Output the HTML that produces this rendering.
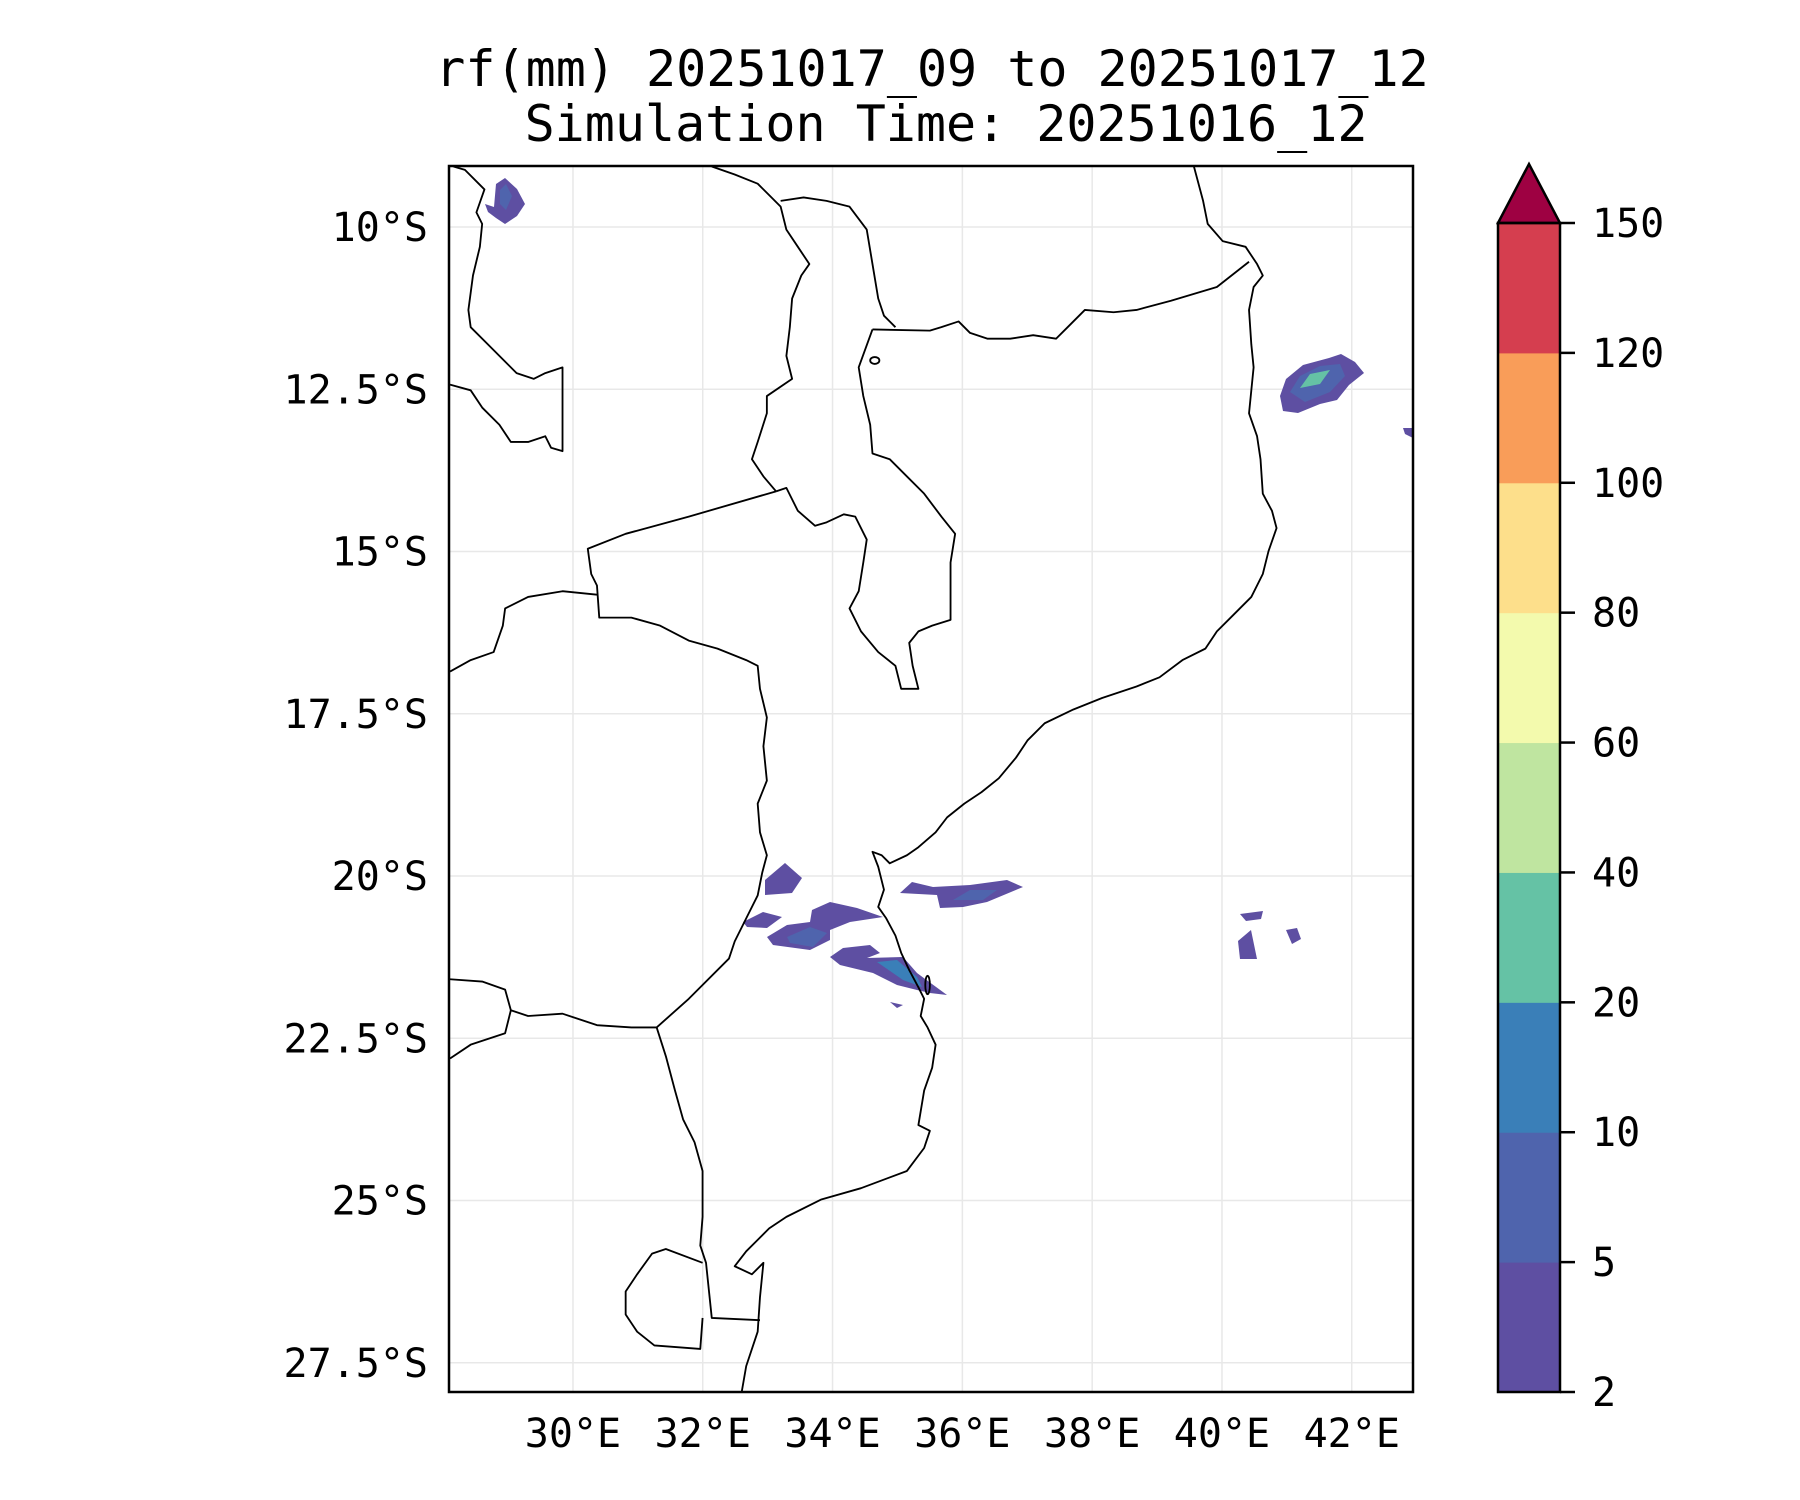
<!DOCTYPE html>
<html><head><meta charset="utf-8"><style>
html,body{margin:0;padding:0;background:#fff;}
svg{display:block;}
text{font-family:"DejaVu Sans Mono","Liberation Mono",monospace;fill:#000;}
</style></head><body>
<svg id="chart" width="1800" height="1500" viewBox="0 0 1800 1500" xmlns="http://www.w3.org/2000/svg">
<rect width="1800" height="1500" fill="#fff"/>
<text x="932" y="86" font-size="50" text-anchor="middle">rf(mm) 20251017_09 to 20251017_12</text>
<text x="946" y="141" font-size="50" text-anchor="middle">Simulation Time: 20251016_12</text>
<defs><clipPath id="mapclip"><rect x="449" y="166" width="964" height="1226"/></clipPath></defs>
<g id="grid"></g>
<g clip-path="url(#mapclip)">
<g id="rain">
<polygon fill="#5e4fa2" points="496,184 505,178 517,189 525,204 517,216 505,224 496,218 488,212 485,204 494,207"/>
<polygon fill="#4f64ad" points="500,190 506,184 512,196 506,210 500,204"/>
<polygon fill="#5e4fa2" points="1280,396 1286,379 1303,365 1329,358 1341,354 1355,362 1364,373 1349,385 1337,400 1320,404 1298,413 1283,411"/>
<polygon fill="#4f64ad" points="1290,392 1300,376 1320,366 1340,364 1345,376 1330,392 1305,402"/>
<polygon fill="#65c2a5" points="1300,388 1310,374 1330,370 1320,384"/>
<polygon fill="#5e4fa2" points="765,880 785,863 802,878 792,893 765,895"/>
<polygon fill="#5e4fa2" points="743,922 763,912 782,917 767,928 747,927"/>
<polygon fill="#5e4fa2" points="767,937 787,925 810,922 812,910 830,902 857,908 883,917 850,922 830,930 830,940 810,950 773,945"/>
<polygon fill="#4f64ad" points="787,937 810,927 827,933 813,947 790,943"/>
<polygon fill="#5e4fa2" points="830,957 843,948 870,945 880,953 867,958 903,957 917,973 947,995 930,993 917,990 897,985 873,973 840,965"/>
<polygon fill="#3a7fb8" points="877,962 897,960 917,977 922,987 903,980"/>
<polygon fill="#5e4fa2" points="900,893 912,882 933,887 970,885 1007,880 1023,887 987,902 963,907 940,908 937,895"/>
<polygon fill="#4f64ad" points="953,900 970,890 997,890 983,900"/>
<polygon fill="#5e4fa2" points="890,1002 903,1005 897,1008"/>
<polygon fill="#5e4fa2" points="1240,914 1263,911 1261,919 1246,921"/>
<polygon fill="#5e4fa2" points="1238,941 1251,930 1257,959 1240,959"/>
<polygon fill="#5e4fa2" points="1286,930 1297,928 1301,939 1292,944"/>
<polygon fill="#5e4fa2" points="1403,428 1413,428 1413,438 1405,434"/>
</g>
<g transform="scale(1.148)" fill="none" stroke="#000" stroke-width="1.6" stroke-linejoin="round">
<polyline points="1040,145 1048,175 1052,195 1065,210 1085,215 1095,230 1100,240 1092,250 1088,270 1090,300 1092,320 1090,340 1088,360 1095,380 1098,400 1100,430 1108,445 1112,460 1105,480 1100,500 1090,520 1075,535 1060,550 1050,565 1030,575 1010,590 990,598 960,608 935,618 910,630 895,645 885,660 870,678 855,690 840,700 825,712 815,725 800,738 790,745 775,752 768,745 760,742 765,755 770,775 765,790 772,800 780,815 785,830 792,845 800,860 805,870 802,885 808,895 815,910 812,930 805,950 800,980 810,985 805,1000 790,1020 750,1035 715,1045 685,1060 670,1070 660,1080 650,1090 640,1103 655,1110 665,1100 662,1130 660,1160 650,1190 646,1213"/>
<polyline points="1088,228 1060,250 1020,262 990,270 970,272 945,270 930,285 920,295 900,292 880,295 860,295 845,290 835,280 820,285 810,288 760,287"/>
<polyline points="760,287 748,320 752,345 758,370 760,395 775,400 790,415 805,430 820,450 832,465 828,490 828,540 812,545 800,550 792,560 795,580 800,600 785,600 780,580 765,568 750,550 740,530 748,515 752,490 755,470 745,450 735,448 720,455 710,458 695,445 685,425 676,428"/>
<polyline points="676,428 600,450 545,465 512,478 515,500 520,510 522,538 550,538 575,545 600,558 625,565 650,575 660,580 662,600 668,625 665,650 668,680 660,700 662,725 668,745 664,760 660,780 650,800 640,820 635,835 600,870 572,895"/>
<polyline points="572,895 580,920 588,950 595,975 605,995 612,1020 612,1060 610,1085 615,1100 620,1148 662,1150"/>
<polyline points="676,428 665,415 655,400 660,385 668,360 668,345 690,330 685,310 688,285 690,260 698,240 705,230 695,215 685,200 680,180 670,170 660,160 640,152 620,145"/>
<polyline points="680,175 700,172 720,175 740,180 755,200 760,230 765,260 770,275 780,285"/>
<polyline points="392,335 410,340 420,355 435,370 445,385 460,385 475,380 480,390 490,393 490,320 475,325 465,330 450,325 440,315 425,300 410,285 408,270 412,240 418,215 420,195 415,185 422,165 405,148 395,145"/>
<polyline points="392,585 410,575 430,568 438,545 440,530 460,520 490,515 520,518"/>
<polyline points="392,853 420,855 440,862 445,880 460,885 490,883 520,893 550,895 572,895"/>
<polyline points="392,922 410,910 440,900 445,880"/>
<polyline points="612,1100 580,1088 568,1092 555,1110 545,1125 545,1145 555,1160 570,1172 610,1175 612,1148"/>
<ellipse cx="762" cy="314" rx="4" ry="3"/>
<ellipse cx="808" cy="858" rx="2" ry="8"/>
</g>
</g>
<rect x="449" y="166" width="964" height="1226" fill="none" stroke="#000" stroke-width="2.5"/>
<g id="xticks"></g>
<g id="yticks"></g>
<g id="cbar"></g>
<script>
const lonTicks=[30,32,34,36,38,40,42];
const lonLabels=["30°E","32°E","34°E","36°E","38°E","40°E","42°E"];
const latTicks=[-10,-12.5,-15,-17.5,-20,-22.5,-25,-27.5];
const latLabels=["10°S","12.5°S","15°S","17.5°S","20°S","22.5°S","25°S","27.5°S"];
const cbarLevels=[2,5,10,20,40,60,80,100,120,150];
const cbarColors=["#5e4fa2","#4f64ad","#3a7fb8","#65c2a5","#bfe5a0","#f3faad","#fddf8b","#f99d59","#d53e4f"];
const extendColor="#9e0142";
const NS="http://www.w3.org/2000/svg";
const L=449,T=166,R=1413,B=1392,lon0=28.09,lat0=-9.06,ppd=64.9;
function xs(lon){return L+(lon-lon0)*ppd;}
function ys(lat){return T+(lat0-lat)*ppd;}
function mk(tag,attrs,parent){const e=document.createElementNS(NS,tag);for(const k in attrs)e.setAttribute(k,attrs[k]);parent.appendChild(e);return e;}
const grid=document.getElementById('grid'),xt=document.getElementById('xticks'),yt=document.getElementById('yticks'),cb=document.getElementById('cbar');
lonTicks.forEach((v,i)=>{
  const l=mk('line',{x1:xs(v),x2:xs(v),y1:T,y2:B,stroke:'#e8e8e8','stroke-width':1.5},grid);
  
  
  const t=mk('text',{x:xs(v),y:1447,'font-size':40,'text-anchor':'middle'},xt);
  t.textContent=lonLabels[i];
  
  
});
latTicks.forEach((v,i)=>{
  const l=mk('line',{x1:L,x2:R,y1:ys(v),y2:ys(v),stroke:'#e8e8e8','stroke-width':1.5},grid);
  
  
  const t=mk('text',{x:428,y:ys(v)+14,'font-size':40,'text-anchor':'end'},yt);
  t.textContent=latLabels[i];
  
  
});
const cx0=1498,cx1=1560,cTop=223,cBot=1392,n=cbarLevels.length-1;
function cy(i){return cBot-(cBot-cTop)*i/n;}
cbarColors.forEach((c,i)=>{
  const r=mk('rect',{x:cx0,y:cy(i+1),width:cx1-cx0,height:cy(i)-cy(i+1)+0.5,fill:c},cb);
  
  
});
const tri=mk('polygon',{points:`${cx0},${cTop} ${(cx0+cx1)/2},${cTop-59} ${cx1},${cTop}`,fill:extendColor,stroke:'#000','stroke-width':2.5,'stroke-linejoin':'miter'},cb);


const fr=mk('rect',{x:cx0,y:cTop,width:cx1-cx0,height:cBot-cTop,fill:'none',stroke:'#000','stroke-width':2.5},cb);


cbarLevels.forEach((v,i)=>{
  const tk=mk('line',{x1:cx1,x2:cx1+15,y1:cy(i),y2:cy(i),stroke:'#000','stroke-width':2.5},cb);
  
  
  const t=mk('text',{x:1592,y:cy(i)+14,'font-size':40},cb);
  t.textContent=String(v);
  
  
});
</script>
</svg>
</body></html>
